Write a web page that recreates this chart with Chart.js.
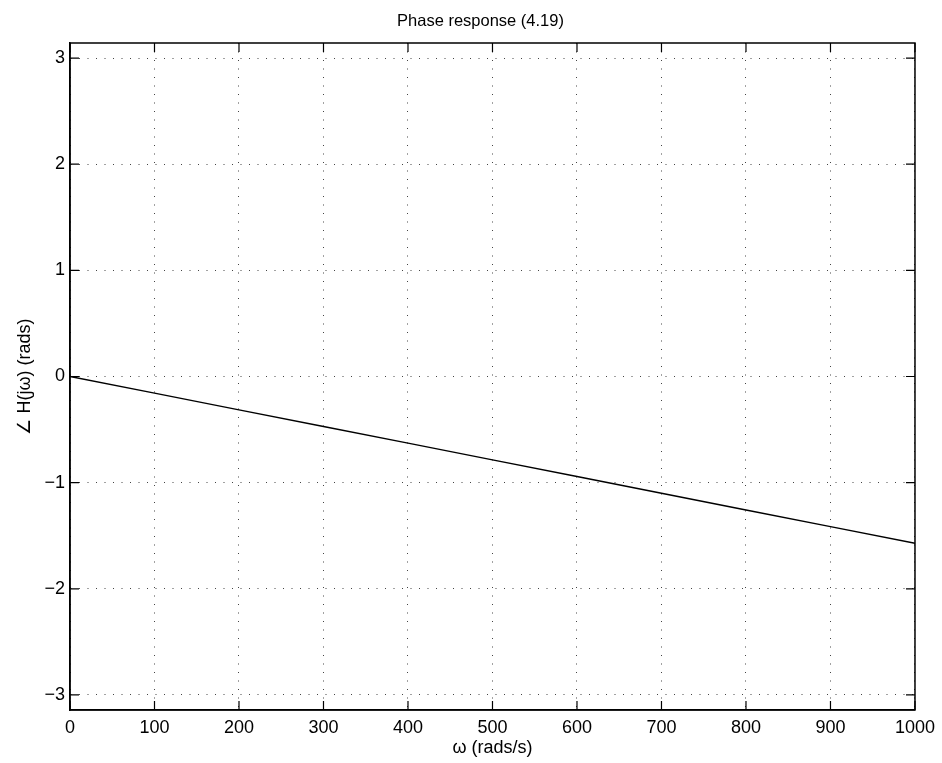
<!DOCTYPE html>
<html>
<head>
<meta charset="utf-8">
<script src="https://cdn.jsdelivr.net/npm/chart.js@4/dist/chart.umd.min.js"></script>
<style>
  html, body { margin: 0; padding: 0; background: #fff; }
  #wrap { width: 942px; height: 763px; }
</style>
</head>
<body>
<div id="wrap"><canvas id="phase"></canvas></div>
<script>
// frequency (rads/s) and phase (rads)
const omega = [0, 100, 200, 300, 400, 500, 600, 700, 800, 900, 1000];
const phase = [0, -0.157, -0.314, -0.471, -0.628, -0.785, -0.942, -1.100, -1.257, -1.414, -1.571];
const xTicks = [0, 100, 200, 300, 400, 500, 600, 700, 800, 900, 1000];
const yTicks = [-3, -2, -1, 0, 1, 2, 3];
const titleText = "Phase response (4.19)";

const FONT = "'Liberation Sans', Helvetica, Arial, sans-serif";
const TICK_LEN = 9;

// matlab style: box on all 4 sides, ticks pointing inwards, title on top
const boxTicks = {
  id: "boxTicks",
  afterDraw(chart) {
    const { ctx, chartArea: a, scales } = chart;
    ctx.save();
    ctx.strokeStyle = "#000";
    ctx.lineWidth = 1.5;
    ctx.strokeRect(a.left, a.top, a.right - a.left, a.bottom - a.top);
    ctx.lineWidth = 1.2;
    ctx.beginPath();
    scales.x.ticks.forEach(t => {
      const px = scales.x.getPixelForValue(t.value);
      ctx.moveTo(px, a.bottom); ctx.lineTo(px, a.bottom - TICK_LEN);
      ctx.moveTo(px, a.top); ctx.lineTo(px, a.top + TICK_LEN);
    });
    scales.y.ticks.forEach(t => {
      const py = scales.y.getPixelForValue(t.value);
      ctx.moveTo(a.left, py); ctx.lineTo(a.left + TICK_LEN, py);
      ctx.moveTo(a.right, py); ctx.lineTo(a.right - TICK_LEN, py);
    });
    ctx.stroke();

    // title, slightly left of the axes centre like the original
    ctx.fillStyle = "#000";
    ctx.font = "16.5px " + FONT;
    ctx.textAlign = "center";
    ctx.textBaseline = "middle";
    ctx.fillText(titleText, (a.left + a.right) / 2 - 12, a.top - 22);
    ctx.restore();
  }
};

const config = {
  type: "line",
  data: {
    datasets: [{
      data: omega.map((w, i) => ({ x: w, y: phase[i] })),
      borderColor: "#000",
      borderWidth: 1.4,
      pointRadius: 0,
      tension: 0,
      fill: false
    }]
  },
  options: {
    responsive: false,
    animation: false,
    layout: { padding: { left: 0, right: 25, top: 43, bottom: 0 } },
    plugins: {
      legend: { display: false },
      tooltip: { enabled: false },
      title: { display: false }
    },
    scales: {
      x: {
        type: "linear",
        min: 0,
        max: 1000,
        afterBuildTicks: s => { s.ticks = xTicks.map(v => ({ value: v })); },
        afterFit: s => { s.height = 53; },
        grid: { color: "#444", lineWidth: 1, drawTicks: false },
        border: { display: true, color: "#000", width: 1.5, dash: [1, 7.5] },
        ticks: {
          color: "#000",
          padding: 7,
          maxRotation: 0,
          font: { family: FONT, size: 18 },
          callback: v => String(v)
        },
        title: {
          display: true,
          text: "ω (rads/s)",
          color: "#000",
          font: { family: FONT, size: 18, lineHeight: 1.2 },
          padding: { top: 0, bottom: 4 }
        }
      },
      y: {
        type: "linear",
        min: -Math.PI,
        max: Math.PI,
        afterBuildTicks: s => { s.ticks = yTicks.map(v => ({ value: v })); },
        afterFit: s => { s.width = 70; },
        grid: { color: "#444", lineWidth: 1, drawTicks: false },
        border: { display: true, color: "#000", width: 1.5, dash: [1, 7.5] },
        ticks: {
          color: "#000",
          padding: 5,
          font: { family: FONT, size: 18 },
          callback: v => (v < 0 ? "\u2212" + Math.abs(v) : String(v))
        },
        title: {
          display: true,
          text: "∠ H(jω) (rads)",
          color: "#000",
          font: { family: FONT, size: 18, lineHeight: 1.2 },
          padding: { top: 14, bottom: 0 }
        }
      }
    }
  },
  plugins: [boxTicks]
};

const canvas = document.getElementById("phase");
canvas.width = 942;
canvas.height = 763;
new Chart(canvas.getContext("2d"), config);
</script>
</body>
</html>
